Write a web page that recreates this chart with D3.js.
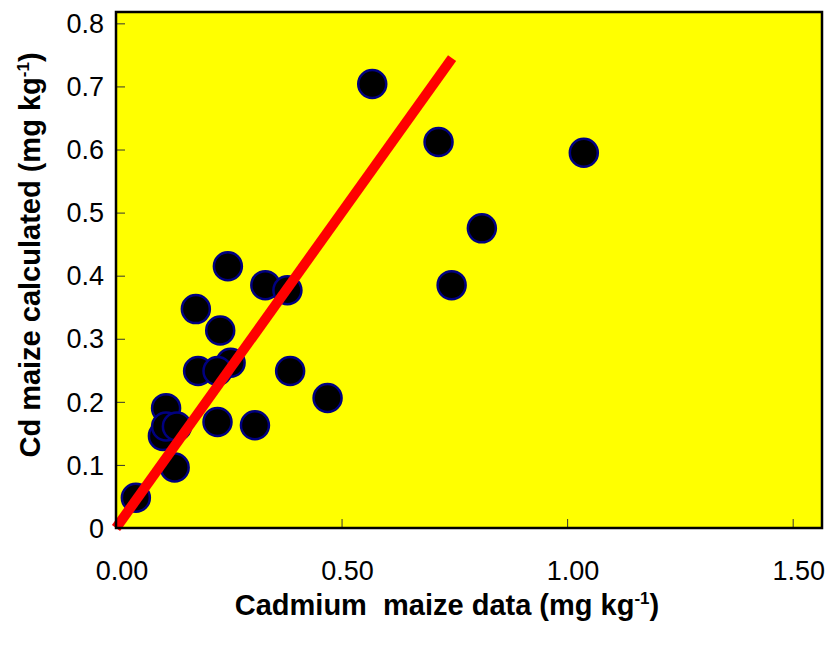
<!DOCTYPE html>
<html lang="en">
<head>
    <meta charset="UTF-8">
    <title>Cd maize calculated vs data</title>
    <style>
        body {
            margin: 0;
            background-color: #fff;
            font-family: Arial, "Liberation Sans", sans-serif;
        }
    </style>
</head>
<body>
    <svg width="837" height="646"></svg>

    <script src="https://d3js.org/d3.v7.min.js"></script>
    <script>
        // measured Cd in maize (x) vs calculated Cd (y), mg/kg
        const cdData = [0.044, 0.248, 0.331, 0.380, 0.177, 0.231, 0.254, 0.182, 0.225, 0.386,
                        0.469, 0.111, 0.104, 0.111, 0.135, 0.225, 0.308, 0.130,
                        0.568, 0.715, 1.037, 0.811, 0.744];
        const cdCalc = [0.048, 0.415, 0.385, 0.377, 0.347, 0.313, 0.262, 0.249, 0.249, 0.249,
                        0.206, 0.190, 0.146, 0.161, 0.161, 0.168, 0.163, 0.096,
                        0.704, 0.612, 0.595, 0.475, 0.385];
        // 1:1 line
        const lineX = [0, 0.745];
        const xTicks = [0, 0.5, 1.0, 1.5];
        const yTicks = [0, 0.1, 0.2, 0.3, 0.4, 0.5, 0.6, 0.7, 0.8];

        const svg = d3.select("svg");
        const plot = {left: 116, right: 822, top: 12, bottom: 528};

        const x = d3.scaleLinear().domain([0, 1.565]).range([plot.left, plot.right]);
        const y = d3.scaleLinear().domain([0, 0.818]).range([plot.bottom, plot.top]);

        svg.append("rect")
            .attr("x", plot.left).attr("y", plot.top)
            .attr("width", plot.right - plot.left)
            .attr("height", plot.bottom - plot.top)
            .attr("fill", "#ffff00");

        // inner ticks
        svg.append("g")
            .attr("transform", `translate(${plot.left},0)`)
            .call(d3.axisRight(y).tickValues(yTicks).tickSize(9).tickFormat(""))
            .call(g => g.select(".domain").remove())
            .selectAll("line").attr("stroke", "#333");

        svg.append("g")
            .attr("transform", `translate(0,${plot.bottom})`)
            .call(d3.axisTop(x).tickValues(xTicks).tickSize(9).tickFormat(""))
            .call(g => g.select(".domain").remove())
            .selectAll("line").attr("stroke", "#333");

        // tick labels
        svg.append("g").selectAll("text")
            .data(yTicks)
            .enter().append("text")
            .attr("x", plot.left - 12)
            .attr("y", d => y(d))
            .attr("dy", "0.36em")
            .attr("text-anchor", "end")
            .attr("font-size", 27)
            .text(d => d === 0 ? "0" : d3.format(".1f")(d));

        svg.append("g").selectAll("text")
            .data(xTicks)
            .enter().append("text")
            .attr("x", d => x(d) + 6)
            .attr("y", 580)
            .attr("text-anchor", "middle")
            .attr("font-size", 27)
            .text(d => d3.format(".2f")(d));

        // points
        svg.append("g").selectAll("circle")
            .data(cdData.map((d, i) => [d, cdCalc[i]]))
            .enter().append("circle")
            .attr("cx", d => x(d[0]))
            .attr("cy", d => y(d[1]))
            .attr("r", 14)
            .attr("fill", "#000")
            .attr("stroke", "#000080")
            .attr("stroke-width", 2.5);

        // red 1:1 line
        svg.append("line")
            .attr("x1", x(lineX[0])).attr("y1", y(lineX[0]))
            .attr("x2", x(lineX[1])).attr("y2", y(lineX[1]))
            .attr("stroke", "#ff0000")
            .attr("stroke-width", 10);

        // frame
        svg.append("rect")
            .attr("x", plot.left).attr("y", plot.top)
            .attr("width", plot.right - plot.left)
            .attr("height", plot.bottom - plot.top)
            .attr("fill", "none")
            .attr("stroke", "#000")
            .attr("stroke-width", 2.5);

        // axis titles
        const xt = svg.append("text")
            .attr("x", 447).attr("y", 615)
            .attr("text-anchor", "middle")
            .attr("font-size", 29)
            .attr("font-weight", "bold");
        xt.append("tspan").text("Cadmium\u00a0 maize data (mg kg");
        xt.append("tspan").attr("font-size", 17).attr("dy", -11).text("-1");
        xt.append("tspan").attr("dy", 11).text(")");

        const yt = svg.append("text")
            .attr("transform", "translate(40,255) rotate(-90)")
            .attr("text-anchor", "middle")
            .attr("font-size", 29)
            .attr("font-weight", "bold");
        yt.append("tspan").text("Cd maize calculated (mg kg");
        yt.append("tspan").attr("font-size", 17).attr("dy", -11).text("-1");
        yt.append("tspan").attr("dy", 11).text(")");
    </script>
</body>
</html>
